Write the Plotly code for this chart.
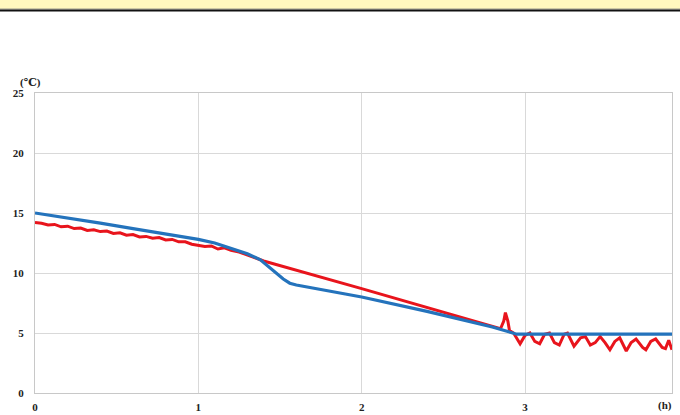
import plotly.graph_objects as go

# Blue series (hours, °C)
blue_x = [0.0, 0.2, 0.4, 0.6, 0.8, 1.0, 1.1, 1.2, 1.3, 1.38, 1.45, 1.52, 1.56, 1.6,
          1.8, 2.0, 2.4, 2.8, 2.95, 3.2, 3.5, 3.9]
blue_y = [15.0, 14.6, 14.15, 13.7, 13.25, 12.8, 12.5, 12.05, 11.6, 11.1, 10.3, 9.5, 9.15, 9.0,
          8.5, 8.0, 6.8, 5.5, 4.9, 4.9, 4.9, 4.9]

# Red series (hours, °C)
red_x = [0.00, 0.04, 0.08, 0.12, 0.16, 0.20, 0.24, 0.28, 0.32, 0.36, 0.40, 0.44, 0.48,
         0.52, 0.56, 0.60, 0.64, 0.68, 0.72, 0.76, 0.80, 0.84, 0.88, 0.92, 0.96, 1.00,
         1.04, 1.08, 1.12, 1.16, 1.20, 1.25, 1.30, 1.35, 1.40, 2.00, 2.50, 2.85, 2.87,
         2.88, 2.895, 2.905, 2.93, 2.97, 3.00, 3.03, 3.06, 3.09, 3.12, 3.15, 3.18, 3.21,
         3.24, 3.26, 3.30, 3.34, 3.37, 3.40, 3.43, 3.46, 3.49, 3.52, 3.55, 3.58, 3.62,
         3.65, 3.68, 3.72, 3.74, 3.77, 3.80, 3.84, 3.86, 3.88, 3.90]
red_y = [14.2, 14.15, 14.0, 14.05, 13.85, 13.9, 13.7, 13.75, 13.55, 13.6, 13.45, 13.5, 13.3,
         13.35, 13.15, 13.2, 13.0, 13.05, 12.9, 12.95, 12.75, 12.8, 12.6, 12.6, 12.4, 12.3,
         12.2, 12.25, 12.0, 12.1, 11.9, 11.75, 11.5, 11.25, 11.0, 8.7, 6.75, 5.35, 6.0,
         6.7, 6.0, 5.2, 5.0, 4.1, 4.8, 5.0, 4.3, 4.1, 4.9, 5.0, 4.2, 4.0,
         4.9, 5.0, 3.9, 4.6, 4.7, 4.0, 4.2, 4.7, 4.2, 3.6, 4.3, 4.6, 3.5,
         4.2, 4.5, 3.8, 3.6, 4.3, 4.5, 3.8, 3.7, 4.4, 3.6]

x_ticks = [0, 1, 2, 3]
y_ticks = [0, 5, 10, 15, 20, 25]

W, H = 680, 415
L, R, T, B = 35, 8, 93, 22
pw, ph = W - L - R, H - T - B

def px(xp):
    return (xp - L) / pw

def py(yp):
    return (H - B - yp) / ph

fig = go.Figure()
fig.add_trace(go.Scatter(x=red_x, y=red_y, mode="lines",
                         line=dict(color="#E8141C", width=3), showlegend=False))
fig.add_trace(go.Scatter(x=blue_x, y=blue_y, mode="lines",
                         line=dict(color="#2473BC", width=3.2), showlegend=False))

tickfont = dict(family="Liberation Serif, DejaVu Serif, serif", size=11, color="#222222", weight="bold")

fig.update_layout(
    width=W, height=H,
    margin=dict(l=L, r=R, t=T, b=B, autoexpand=False),
    paper_bgcolor="white", plot_bgcolor="white",
    xaxis=dict(range=[0, 3.9], tickvals=x_ticks, ticktext=[str(v) for v in x_ticks],
               showgrid=True, gridcolor="#d9d9d9", gridwidth=1,
               showline=True, linecolor="#c8c8c8", linewidth=1, mirror=True,
               zeroline=False, tickfont=tickfont, ticks="", ticklabelstandoff=4),
    yaxis=dict(range=[0, 25], tickvals=y_ticks, ticktext=[str(v) for v in y_ticks],
               showgrid=True, gridcolor="#d9d9d9", gridwidth=1,
               showline=True, linecolor="#c8c8c8", linewidth=1, mirror=True,
               zeroline=False, tickfont=tickfont, ticks="", ticklabelstandoff=8),
    shapes=[
        dict(type="rect", xref="paper", yref="paper", x0=px(0), x1=px(W), y0=py(9), y1=py(0),
             fillcolor="#FFF8BF", line=dict(width=0), layer="below"),
        dict(type="line", xref="paper", yref="paper", x0=px(0), x1=px(W), y0=py(9), y1=py(9),
             line=dict(color="#9a9a8a", width=1)),
        dict(type="line", xref="paper", yref="paper", x0=px(0), x1=px(W), y0=py(10.5), y1=py(10.5),
             line=dict(color="#111111", width=2)),
    ],
    annotations=[
        dict(text="(℃)", xref="paper", yref="paper", x=px(18), y=py(82), xanchor="left",
             yanchor="middle", showarrow=False, font=tickfont),
        dict(text="(h)", xref="paper", yref="paper", x=px(656), y=py(405), xanchor="left",
             yanchor="middle", showarrow=False, font=tickfont),
    ],
)

fig.write_html("out.html", config={"displayModeBar": False},
               post_script="document.body.style.margin='0';document.body.style.padding='0';")
